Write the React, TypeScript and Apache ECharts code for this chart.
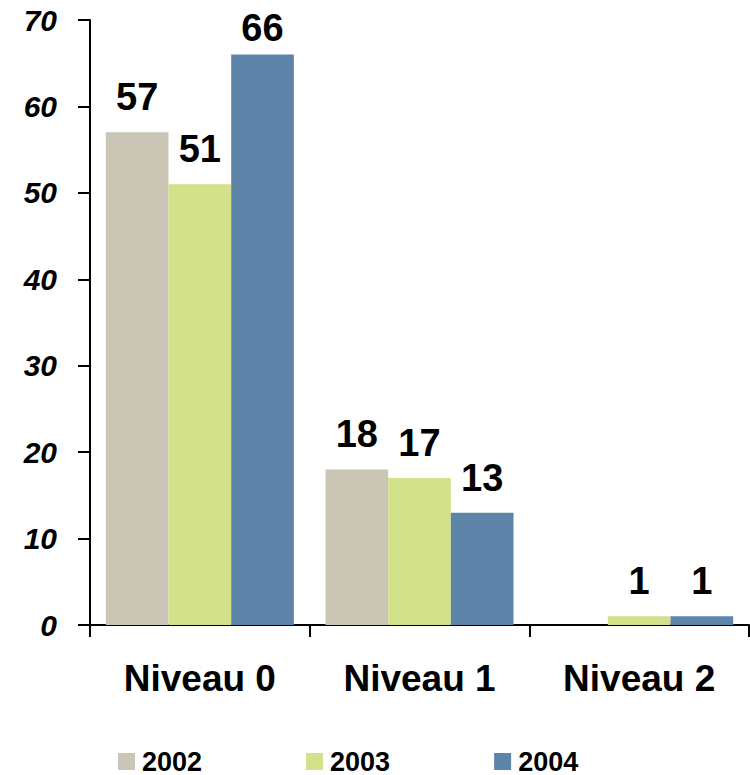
import React, { useEffect, useRef } from "react";
import * as echarts from "echarts";

const categories = ["Niveau 0", "Niveau 1", "Niveau 2"];
const seriesNames = ["2002", "2003", "2004"];
const values2002 = [57, 18, 0];
const values2003 = [51, 17, 1];
const values2004 = [66, 13, 1];
const yTicks = [0, 10, 20, 30, 40, 50, 60, 70];

const colors = ["#C9C6B6", "#D4E18B", "#5E84A9"];
const FONT = "'Liberation Sans', Arial, sans-serif";

export default function App() {
  const ref = useRef<HTMLDivElement>(null);
  useEffect(() => {
    if (!ref.current) return;
    const chart = echarts.init(ref.current, null, { renderer: "svg" });
    const allValues = [values2002, values2003, values2004];
    const yMax = yTicks[yTicks.length - 1];
    const series = allValues.map((vals, si) => ({
      name: seriesNames[si],
      type: "bar",
      barGap: "0%",
      barCategoryGap: "14.4%",
      itemStyle: { color: colors[si] },
      label: {
        show: true,
        position: "top",
        distance: 16,
        color: "#000",
        fontSize: 38,
        fontWeight: "bold",
        fontFamily: FONT,
      },
      data: vals.map((v) => {
        if (v === 0) return { value: v, label: { show: false } };
        if (v > yMax - 8) return { value: v, label: { distance: 8 } };
        return { value: v };
      }),
    }));
    chart.setOption({
      animation: false,
      backgroundColor: "#fff",
      grid: { left: 90, right: 1, top: 20, bottom: 150, containLabel: false },
      legend: {
        data: seriesNames,
        left: 113,
        top: 743,
        itemWidth: 17,
        itemHeight: 17,
        itemGap: 104,
        icon: "rect",
        textStyle: {
          fontSize: 27,
          fontWeight: "bold",
          fontFamily: FONT,
          color: "#000",
          padding: [0, 0, 0, 2],
        },
      },
      xAxis: {
        type: "category",
        data: categories,
        axisLine: { lineStyle: { color: "#000", width: 2 } },
        axisTick: { show: true, length: 12, lineStyle: { color: "#000", width: 2 } },
        axisLabel: {
          margin: 35,
          fontSize: 37,
          fontWeight: "bold",
          fontFamily: FONT,
          color: "#000",
        },
      },
      yAxis: {
        type: "value",
        min: 0,
        max: yMax,
        interval: 10,
        axisLine: { show: true, lineStyle: { color: "#000", width: 2 } },
        axisTick: { show: true, length: 12, lineStyle: { color: "#000", width: 2 } },
        splitLine: { show: false },
        axisLabel: {
          margin: 33,
          fontSize: 30,
          fontWeight: "bold",
          fontStyle: "italic",
          fontFamily: FONT,
          color: "#000",
        },
      },
      series,
    });
    return () => chart.dispose();
  }, []);
  return (
    <div
      ref={ref}
      style={{ position: "fixed", left: 0, top: 0, width: 750, height: 775, background: "#fff" }}
    />
  );
}
